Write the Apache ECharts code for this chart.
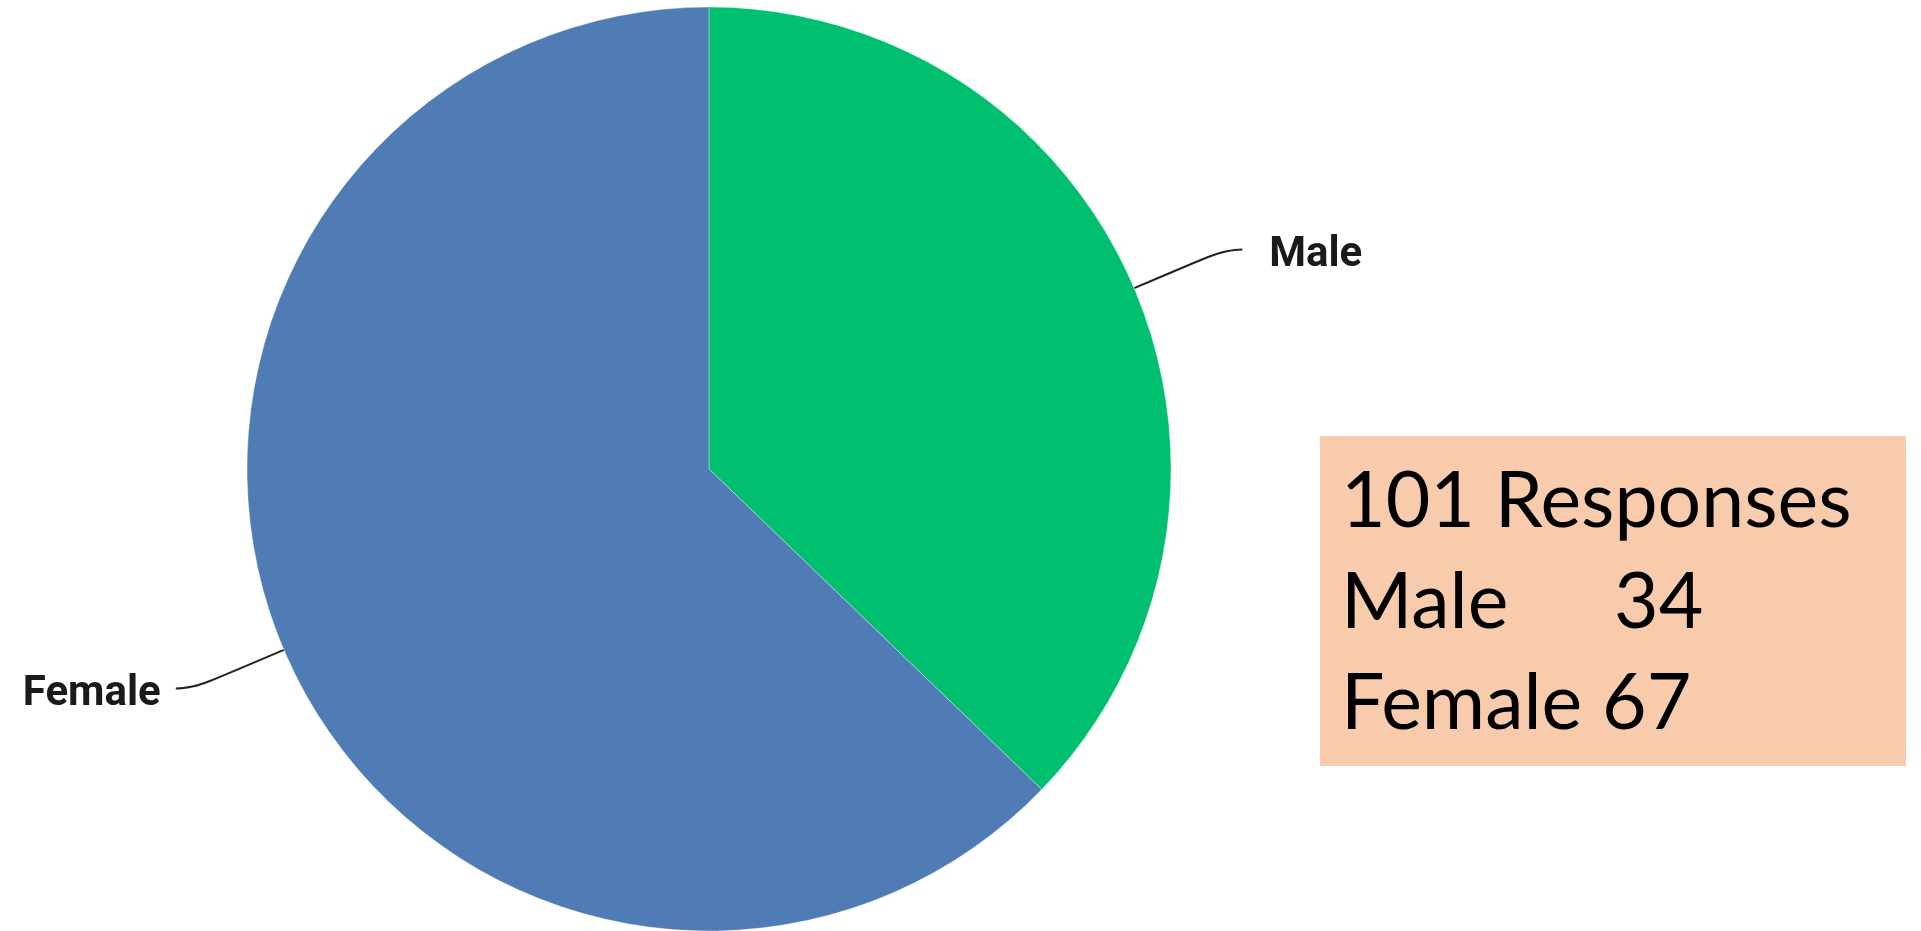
<!DOCTYPE html>
<html>
<head>
<meta charset="utf-8">
<script src="https://cdn.jsdelivr.net/npm/echarts@6/dist/echarts.min.js"></script>
<style>
html,body{margin:0;padding:0;background:#fff;}
#chart{width:1921px;height:931px;}
</style>
</head>
<body>
<div id="chart"></div>
<script>
// Pie slices (share of the circle as drawn)
var categories = ['Male', 'Female'];
var sliceShares = [37.2, 62.8];
var sliceColors = ['#00bf6f', '#507cb6'];

// Annotation box
var totalResponses = 101;
var boxTitleSuffix = 'Responses';
var responseCounts = [34, 67];

var chart = echarts.init(document.getElementById('chart'), null, {renderer: 'canvas'});

var labelPadding = [[0, 0, 0, 22], [0, 10, 0, 0]];
var boxFont = '77px Lato';

var option = {
  animation: false,
  backgroundColor: '#ffffff',
  series: [{
    type: 'pie',
    center: [709, 469],
    radius: [0, 462],
    startAngle: 90,
    clockwise: true,
    avoidLabelOverlap: false,
    itemStyle: {borderColor: 'rgba(255,255,255,0.35)', borderWidth: 1},
    label: {
      show: true,
      position: 'outside',
      formatter: '{s| }\n{t|{b}}',
      color: '#1a1a1a',
      fontFamily: 'Roboto',
      fontWeight: 'bold',
      fontSize: 42,
      rich: {
        s: {fontSize: 6, lineHeight: 12, height: 12},
        t: {fontSize: 42, fontFamily: 'Roboto', fontWeight: 'bold', color: '#1a1a1a', lineHeight: 50}
      }
    },
    labelLine: {
      show: true,
      length: 99,
      length2: 17,
      smooth: 0.6,
      lineStyle: {color: '#222', width: 2}
    },
    emphasis: {disabled: true},
    data: categories.map(function (c, i) {
      return {
        name: c,
        value: sliceShares[i],
        itemStyle: {color: sliceColors[i]},
        label: {padding: labelPadding[i]}
      };
    })
  }],
  graphic: [
    {
      type: 'rect',
      shape: {x: 1320, y: 436, width: 586, height: 330},
      style: {fill: '#f8cbad'},
      z: 10
    },
    {
      type: 'text',
      x: 1341, y: 464,
      style: {text: totalResponses + ' ' + boxTitleSuffix, font: boxFont, fill: '#000', verticalAlign: 'top'},
      z: 11
    },
    {
      type: 'text',
      x: 1341, y: 565,
      style: {text: categories[0], font: boxFont, fill: '#000', verticalAlign: 'top'},
      z: 11
    },
    {
      type: 'text',
      x: 1614, y: 565,
      style: {text: String(responseCounts[0]), font: boxFont, fill: '#000', verticalAlign: 'top'},
      z: 11
    },
    {
      type: 'text',
      x: 1341, y: 666,
      style: {text: categories[1] + ' ' + responseCounts[1], font: boxFont, fill: '#000', verticalAlign: 'top'},
      z: 11
    }
  ]
};
chart.setOption(option);
</script>
</body>
</html>
